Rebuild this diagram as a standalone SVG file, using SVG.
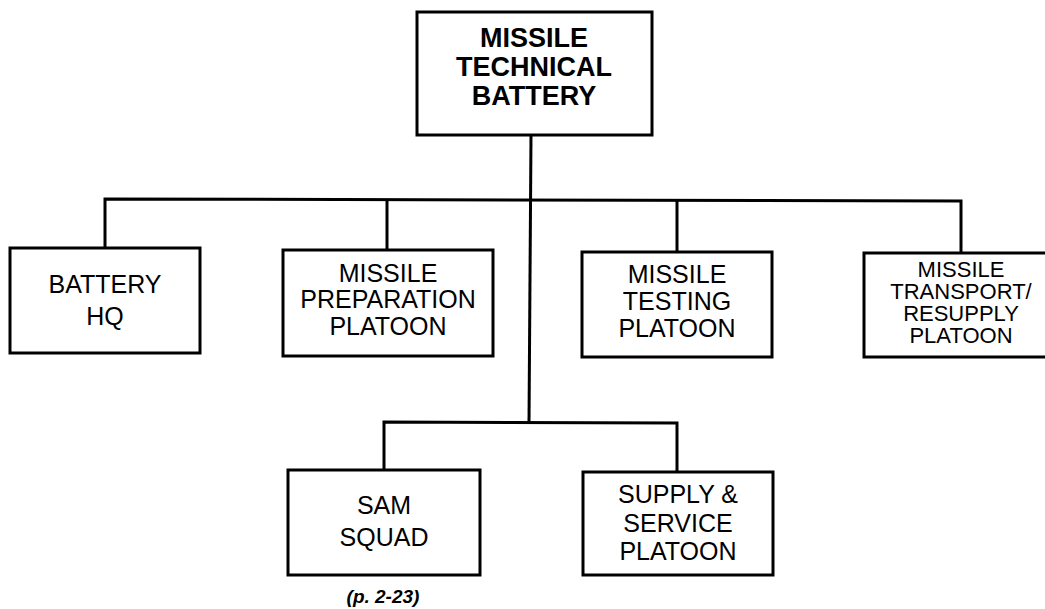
<svg xmlns="http://www.w3.org/2000/svg" width="1045" height="609" viewBox="0 0 1045 609">
<style>
.box{fill:#fff;stroke:#000;stroke-width:3}
.ln{fill:none;stroke:#000;stroke-width:3}
text{font-family:"Liberation Sans",Arial,sans-serif;fill:#000;text-anchor:middle}
.t{font-size:25px}
.h{font-size:27px;font-weight:bold}
.tr{font-size:22px}
.cap{font-size:19px;font-style:italic;font-weight:bold}
</style>
<rect width="1045" height="609" fill="#fff"/>
<g id="connectors">
<path class="ln" d="M531,135 L529,422"/>
<path class="ln" d="M105,248 L105,199 L961,201 L961,253"/>
<path class="ln" d="M387,199 L387,250"/>
<path class="ln" d="M677,200 L677,252"/>
<path class="ln" d="M384,470 L384,422 L677,423 L677,472"/>
</g>
<g id="n-mtb">
<rect class="box" x="417" y="12" width="235" height="123"/>
<text class="h" x="534" y="47">MISSILE</text>
<text class="h" x="534" y="76">TECHNICAL</text>
<text class="h" x="534" y="105">BATTERY</text>
</g>
<g id="n-bhq">
<rect class="box" x="10" y="248" width="190" height="105"/>
<text class="t" x="105" y="293">BATTERY</text>
<text class="t" x="105" y="325">HQ</text>
</g>
<g id="n-prep">
<rect class="box" x="283" y="250" width="210" height="106"/>
<text class="t" x="388" y="282">MISSILE</text>
<text class="t" x="388" y="308">PREPARATION</text>
<text class="t" x="388" y="335">PLATOON</text>
</g>
<g id="n-test">
<rect class="box" x="582" y="252" width="190" height="105"/>
<text class="t" x="677" y="283">MISSILE</text>
<text class="t" x="677" y="310">TESTING</text>
<text class="t" x="677" y="337">PLATOON</text>
</g>
<g id="n-trans">
<rect class="box" x="864" y="253" width="190" height="104"/>
<text class="tr" x="961" y="277">MISSILE</text>
<text class="tr" x="961" y="299">TRANSPORT/</text>
<text class="tr" x="961" y="321">RESUPPLY</text>
<text class="tr" x="961" y="343">PLATOON</text>
</g>
<g id="n-sam">
<rect class="box" x="288" y="470" width="192" height="105"/>
<text class="t" x="384" y="514">SAM</text>
<text class="t" x="384" y="546">SQUAD</text>
</g>
<g id="n-supply">
<rect class="box" x="583" y="472" width="190" height="103"/>
<text class="t" x="678" y="503">SUPPLY &amp;</text>
<text class="t" x="678" y="532">SERVICE</text>
<text class="t" x="678" y="560">PLATOON</text>
</g>
<text class="cap" x="383" y="603">(p. 2-23)</text>
</svg>
